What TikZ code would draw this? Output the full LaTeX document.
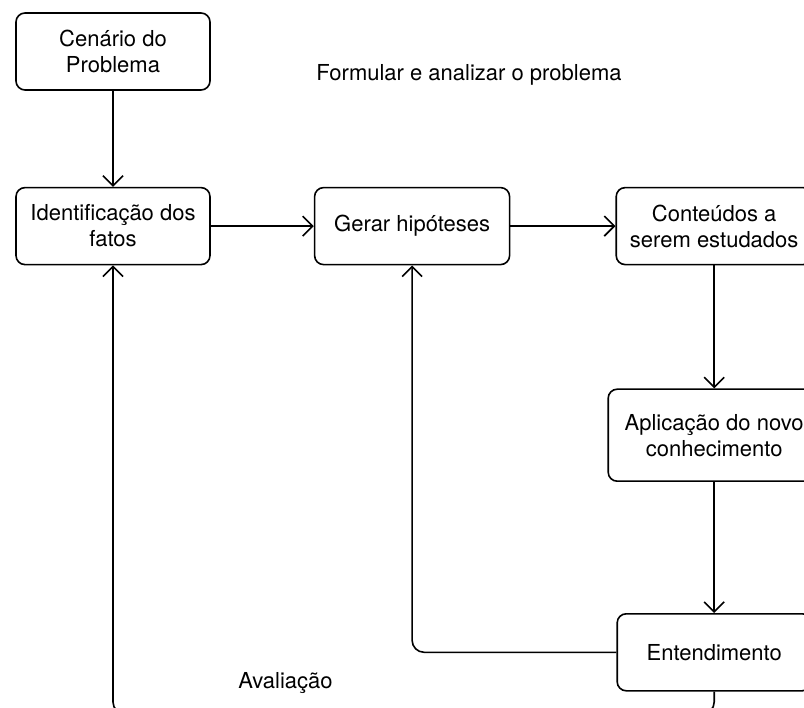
\documentclass[tikz,border=0pt]{standalone}
\usepackage{fontspec}
\setmainfont{TeX Gyre Heros}
\usepackage{tikz}
\usetikzlibrary{positioning, arrows.meta}

\begin{document}
\begin{tikzpicture}[x=1pt, y=-1pt, font=\fontsize{22}{26}\selectfont,
  stage/.style={rectangle, draw, rounded corners=9pt, line width=1.6pt, align=center, minimum height=77pt, minimum width=194pt, inner sep=0pt},
  flow/.style={-{Straight Barb[length=10pt, width=20pt]}, line width=1.6pt}]
\useasboundingbox (0,0) rectangle (804,708);
\clip (0,0) rectangle (804,708);

% Boxes
\node[stage] (cen) at (113,51.5) {Cenário do\\Problema};
\node[stage] (ident) [below=96pt of cen] {Identificação dos\\fatos};
\node[stage, minimum width=195pt] (hip) [right=103pt of ident] {Gerar hipóteses};
\node[stage, minimum width=196pt] (cont) [right=105pt of hip] {Conteúdos a\\serem estudados};
\node[stage, minimum width=212pt, minimum height=92pt] (apl) [below=123pt of cont] {Aplicação do novo\\conhecimento};
\node[stage] (ent) [below=131pt of apl] {Entendimento};

% Labels
\node (formular) at (469,75) {Formular e analizar o problema};
\node (aval) at (285.5,683) {Avaliação};

% Arrows
\draw[flow] (cen) -- (ident);
\draw[flow] (ident) -- (hip);
\draw[flow] (hip) -- (cont);
\draw[flow] (cont) -- (apl);
\draw[flow] (apl) -- (ent);
\draw[flow, rounded corners=12pt] (ent.west) -| (hip.south);
\coordinate (floor) at (0,714);
\draw[flow, rounded corners=12pt] (ent.south) -- (ent.south |- floor) -| (ident.south);

\end{tikzpicture}
\end{document}
